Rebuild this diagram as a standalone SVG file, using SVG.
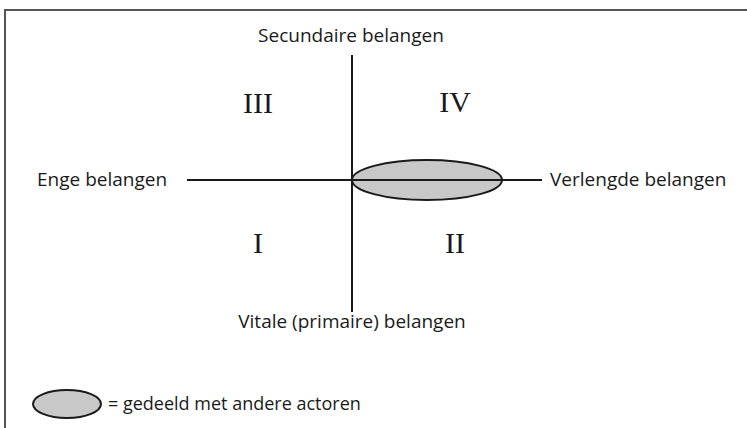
<svg xmlns="http://www.w3.org/2000/svg" width="747" height="428" viewBox="0 0 747 428">
<style>
.lbl{font-family:"Open Sans","Liberation Sans",sans-serif;font-size:19px;fill:#1a1a1a}
.leg{font-family:"Open Sans","Liberation Sans",sans-serif;font-size:18px;fill:#1a1a1a}
.num{font-family:"Liberation Serif",serif;font-size:30px;fill:#1a1a1a;text-anchor:middle}
.ax{stroke:#1a1a1a;stroke-width:2;fill:none}
.ell{fill:#c8c8c8;stroke:#1a1a1a;stroke-width:2}
</style>
<rect width="747" height="428" fill="#fff"/>
<path d="M5,428 V10 H747" fill="none" stroke="#555" stroke-width="2"/>
<g id="connectors">
<line class="ax" x1="187" y1="180" x2="542" y2="180"/>
<line class="ax" x1="352" y1="55" x2="352" y2="312"/>
</g>
<g id="shared"><ellipse class="ell" cx="427" cy="180" rx="75" ry="20"/><line class="ax" x1="352" y1="180" x2="502" y2="180"/></g>
<g id="top"><text class="lbl" x="351" y="42" text-anchor="middle">Secundaire belangen</text></g>
<g id="left"><text class="lbl" x="37" y="186">Enge belangen</text></g>
<g id="right"><text class="lbl" x="550" y="186">Verlengde belangen</text></g>
<g id="bottom"><text class="lbl" x="352" y="328" text-anchor="middle">Vitale (primaire) belangen</text></g>
<g id="q3"><text class="num" x="258" y="113">III</text></g>
<g id="q4"><text class="num" x="455" y="112">IV</text></g>
<g id="q1"><text class="num" x="258" y="253">I</text></g>
<g id="q2"><text class="num" x="455" y="253">II</text></g>
<g id="legend"><ellipse class="ell" cx="67" cy="404" rx="34" ry="14"/><text class="leg" x="108" y="410">= gedeeld met andere actoren</text></g>
</svg>
